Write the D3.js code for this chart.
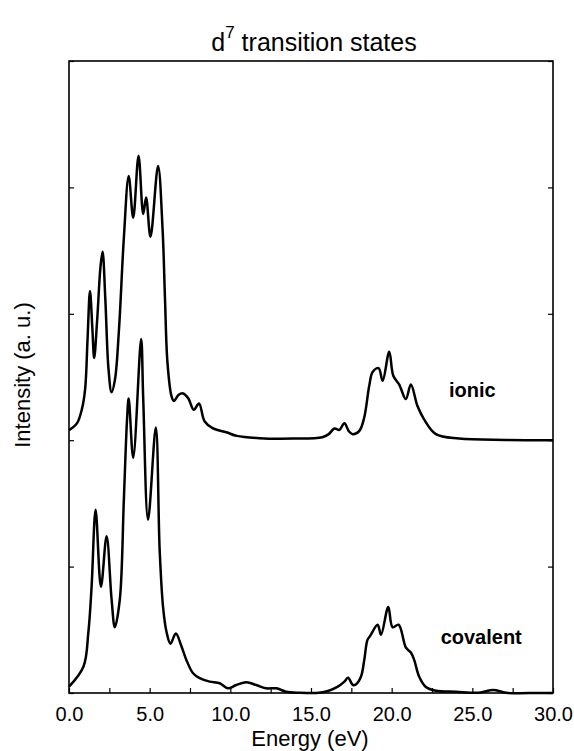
<!DOCTYPE html>
<html>
<head>
<meta charset="utf-8">
<script src="https://cdn.jsdelivr.net/npm/d3@7"></script>
<style>
  html, body { margin: 0; padding: 0; background: #fff; }
  svg { display: block; }
  text { font-family: "Liberation Sans", Arial, Helvetica, sans-serif; fill: #000; }
</style>
</head>
<body>
<svg id="chart" width="574" height="751"></svg>
<script>
// Energy (eV) and intensity (a. u.) readings for each spectrum
const ionicEnergy = [0, 0.5, 0.8, 1.0, 1.15, 1.3, 1.45, 1.56, 1.75, 1.95, 2.08, 2.25, 2.45, 2.64, 2.85, 3.1, 3.4, 3.7, 3.98, 4.31, 4.6, 4.78, 5.05, 5.52, 5.8, 5.95, 6.1, 6.35, 6.5, 6.8, 7.07, 7.4, 7.73, 8.06, 8.4, 8.9, 9.75, 10.4, 11.8, 13.9, 15.7, 16.1, 16.45, 16.76, 17.07, 17.35, 17.58, 18.0, 18.3, 18.61, 18.82, 19.19, 19.44, 19.85, 20.1, 20.47, 20.88, 21.19, 21.6, 22.0, 22.74, 24.18, 27.06, 30.0];
const ionicIntensity = [0.079, 0.135, 0.246, 0.405, 0.80, 1.18, 0.88, 0.65, 0.96, 1.37, 1.49, 1.12, 0.56, 0.38, 0.48, 0.88, 1.60, 2.09, 1.76, 2.25, 1.79, 1.92, 1.61, 2.17, 1.67, 1.12, 0.62, 0.35, 0.31, 0.36, 0.37, 0.33, 0.24, 0.29, 0.15, 0.095, 0.063, 0.034, 0.016, 0.013, 0.024, 0.048, 0.093, 0.082, 0.135, 0.07, 0.048, 0.074, 0.18, 0.43, 0.54, 0.57, 0.47, 0.70, 0.51, 0.44, 0.325, 0.44, 0.27, 0.167, 0.048, 0.013, 0.002, 0.0];

const covalentEnergy = [0, 0.9, 1.2, 1.4, 1.65, 1.98, 2.33, 2.64, 2.84, 3.15, 3.4, 3.6, 3.7, 3.98, 4.47, 4.6, 4.9, 5.38, 5.62, 5.83, 6.05, 6.29, 6.62, 6.97, 7.28, 7.69, 8.1, 8.72, 9.34, 9.85, 10.37, 11.0, 11.6, 12.2, 12.85, 13.46, 14.3, 15.5, 16.1, 16.66, 17.07, 17.3, 17.6, 17.8, 18.1, 18.3, 18.5, 18.66, 19.13, 19.34, 19.79, 20.06, 20.43, 20.88, 21.19, 21.4, 21.7, 22.1, 22.74, 23.98, 25.4, 26.3, 27.1, 29.1, 30.0];
const covalentIntensity = [0.05, 0.21, 0.48, 0.84, 1.45, 0.84, 1.24, 0.74, 0.52, 0.74, 1.53, 2.17, 2.33, 1.86, 2.80, 2.33, 1.37, 2.10, 1.13, 0.68, 0.48, 0.39, 0.47, 0.37, 0.26, 0.156, 0.117, 0.09, 0.077, 0.037, 0.063, 0.085, 0.063, 0.037, 0.037, 0.01, 0.002, 0.002, 0.018, 0.05, 0.09, 0.12, 0.063, 0.07, 0.13, 0.26, 0.42, 0.45, 0.54, 0.46, 0.68, 0.52, 0.54, 0.36, 0.32, 0.26, 0.13, 0.05, 0.018, 0.01, 0.002, 0.024, 0.002, 0.0, 0.0];

// Vertical offset that stacks the ionic spectrum above the covalent one
const ionicOffset = 2.0;

const xTickValues = [0, 2.5, 5, 7.5, 10, 12.5, 15, 17.5, 20, 22.5, 25, 27.5, 30];
const xTickLabels = ["0.0", "5.0", "10.0", "15.0", "20.0", "25.0", "30.0"];
const yTickValues = [0, 1, 2, 3, 4, 5];

const svg = d3.select("#chart");
const margin = { left: 69, right: 21, top: 61, bottom: 58 };
const W = 574, H = 751;
const plotW = W - margin.left - margin.right;
const plotH = H - margin.top - margin.bottom;

const x = d3.scaleLinear().domain([0, 30]).range([margin.left, margin.left + plotW]);
const y = d3.scaleLinear().domain([0, 5]).range([margin.top + plotH, margin.top]);

// Frame
svg.append("rect")
  .attr("x", margin.left).attr("y", margin.top)
  .attr("width", plotW).attr("height", plotH)
  .attr("fill", "none").attr("stroke", "#000").attr("stroke-width", 1.6);

// Bottom axis: inward ticks every 2.5 eV, labels every 5 eV
const labelSet = new Map(xTickLabels.map(s => [parseFloat(s), s]));
const xAxis = d3.axisBottom(x)
  .tickValues(xTickValues)
  .tickSizeInner(-5).tickSizeOuter(0)
  .tickPadding(14)
  .tickFormat(d => labelSet.has(d) ? labelSet.get(d) : "");
const gx = svg.append("g").attr("transform", `translate(0,${margin.top + plotH})`).call(xAxis);
gx.select(".domain").remove();
gx.selectAll("line").attr("stroke", "#000").attr("stroke-width", 1.2);
gx.selectAll("text").attr("font-size", 20).style("font-family", '"Liberation Sans", Arial, sans-serif');

// Left and right axes: unlabeled inward ticks
const yLeft = d3.axisLeft(y).tickValues(yTickValues).tickSizeInner(-5).tickSizeOuter(0).tickFormat("");
const gyl = svg.append("g").attr("transform", `translate(${margin.left},0)`).call(yLeft);
gyl.select(".domain").remove();
gyl.selectAll("line").attr("stroke", "#000").attr("stroke-width", 1.2);

const yRight = d3.axisRight(y).tickValues(yTickValues).tickSizeInner(-5).tickSizeOuter(0).tickFormat("");
const gyr = svg.append("g").attr("transform", `translate(${margin.left + plotW},0)`).call(yRight);
gyr.select(".domain").remove();
gyr.selectAll("line").attr("stroke", "#000").attr("stroke-width", 1.2);

// Spectra
const line = d3.line()
  .x(d => x(d[0]))
  .y(d => y(d[1]))
  .curve(d3.curveCatmullRom.alpha(0.5));

const covalent = covalentEnergy.map((e, i) => [e, covalentIntensity[i]]);
const ionic = ionicEnergy.map((e, i) => [e, ionicIntensity[i] + ionicOffset]);

svg.append("path").datum(covalent)
  .attr("d", line).attr("fill", "none").attr("stroke", "#000")
  .attr("stroke-width", 2.5).attr("stroke-linejoin", "round");
svg.append("path").datum(ionic)
  .attr("d", line).attr("fill", "none").attr("stroke", "#000")
  .attr("stroke-width", 2.5).attr("stroke-linejoin", "round");

// Series labels
svg.append("text").attr("x", x(25.0)).attr("y", y(ionicOffset + 0.34))
  .attr("text-anchor", "middle").attr("font-size", 20).attr("font-weight", "bold")
  .text("ionic");
svg.append("text").attr("x", x(25.55)).attr("y", y(0.39))
  .attr("text-anchor", "middle").attr("font-size", 20).attr("font-weight", "bold")
  .text("covalent");

// Title with superscript
const title = svg.append("text").attr("x", 314).attr("y", 51)
  .attr("text-anchor", "middle").attr("font-size", 25);
title.append("tspan").text("d");
title.append("tspan").attr("dy", -13).attr("font-size", 17).text("7");
title.append("tspan").attr("dy", 13).text(" transition states");

// Axis titles
svg.append("text").attr("x", x(15) - 1).attr("y", 746)
  .attr("text-anchor", "middle").attr("font-size", 22)
  .text("Energy (eV)");
svg.append("text")
  .attr("transform", `translate(30,375) rotate(-90)`)
  .attr("text-anchor", "middle").attr("font-size", 22)
  .text("Intensity (a. u.)");
</script>
</body>
</html>
